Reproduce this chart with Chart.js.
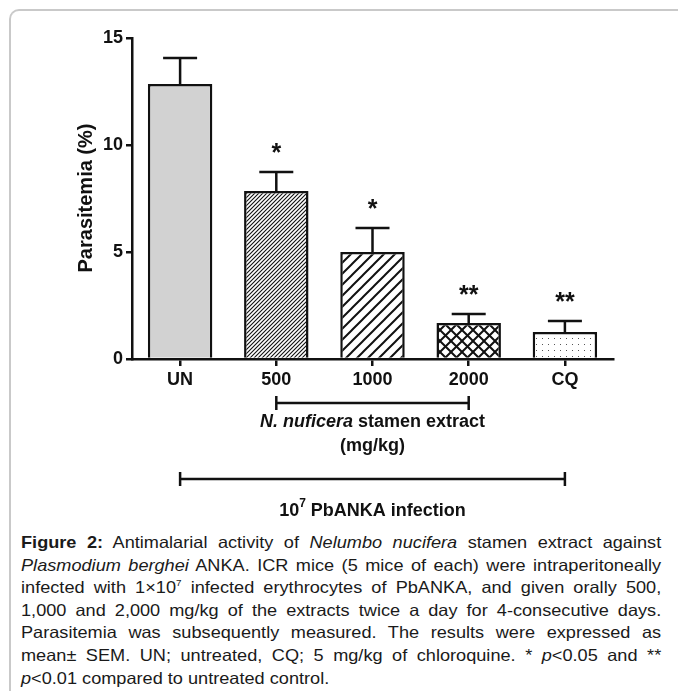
<!DOCTYPE html>
<html>
<head>
<meta charset="utf-8">
<script src="https://cdn.jsdelivr.net/npm/chart.js@4.4.0/dist/chart.umd.min.js"></script>
<style>
  html, body { margin: 0; padding: 0; background: #fff; overflow: hidden; }
  body { width: 678px; height: 691px; position: relative; font-family: "Liberation Sans", Arial, sans-serif; }
  .frame { position: absolute; left: 9px; top: 9px; width: 720px; height: 720px;
           border-top: 2px solid #c9c9c9; border-left: 2px solid #c9c9c9; border-top-left-radius: 10px; }
  #wrap { position: absolute; left: 0; top: 0; width: 678px; height: 530px; }
  .caption { position: absolute; left: 21px; top: 531px; width: 582px; font-size: 16.5px; line-height: 22.6px;
             color: #1a1a1a; transform: scaleX(1.1); transform-origin: 0 0; }
  .caption div { text-align: justify; text-align-last: justify; white-space: nowrap; }
  .caption div.last { text-align-last: left; }
  .caption sup { font-size: 9px; line-height: 0; vertical-align: 7px; }
</style>
</head>
<body>
<div class="frame"></div>
<div id="wrap"><canvas id="parasitemiaChart" width="678" height="530"></canvas></div>
<div class="caption">
  <div><b>Figure 2:</b> Antimalarial activity of <i>Nelumbo nucifera</i> stamen extract against</div>
  <div><i>Plasmodium berghei</i> ANKA. ICR mice (5 mice of each) were intraperitoneally</div>
  <div>infected with 1×10<sup>7</sup> infected erythrocytes of PbANKA, and given orally 500,</div>
  <div>1,000 and 2,000 mg/kg of the extracts twice a day for 4-consecutive days.</div>
  <div>Parasitemia was subsequently measured. The results were expressed as</div>
  <div>mean± SEM. UN; untreated, CQ; 5 mg/kg of chloroquine. * <i>p</i>&lt;0.05 and **</div>
  <div class="last"><i>p</i>&lt;0.01 compared to untreated control.</div>
</div>
<script>
const categories = ['UN', '500', '1000', '2000', 'CQ'];
const meanValues = [12.85, 7.85, 5.0, 1.68, 1.26];
const semValues = [1.22, 0.89, 1.12, 0.42, 0.52];
const sigMarks = ['', '*', '*', '**', '**'];
const yTicks = [0, 5, 10, 15];

const INK = '#111';
const FONT = '"Liberation Sans", Arial, sans-serif';

function makePattern(size, draw) {
    const c = document.createElement('canvas');
    c.width = size; c.height = size;
    const g = c.getContext('2d');
    g.fillStyle = '#fff';
    g.fillRect(0, 0, size, size);
    draw(g, size);
    return document.getElementById('parasitemiaChart').getContext('2d').createPattern(c, 'repeat');
}

function diagonal(g, s, w) {
    g.strokeStyle = INK; g.lineWidth = w;
    g.beginPath();
    g.moveTo(-1, s + 1); g.lineTo(s + 1, -1);
    g.moveTo(-1, 1); g.lineTo(1, -1);
    g.moveTo(s - 1, s + 1); g.lineTo(s + 1, s - 1);
    g.stroke();
}

const fills = [
    '#d2d2d2',
    makePattern(4, (g, s) => diagonal(g, s, 1.1)),
    makePattern(11, (g, s) => diagonal(g, s, 2)),
    makePattern(11, (g, s) => {
        diagonal(g, s, 2);
        g.beginPath();
        g.moveTo(-1, -1); g.lineTo(s + 1, s + 1);
        g.moveTo(s - 1, -1); g.lineTo(s + 1, 1);
        g.moveTo(-1, s - 1); g.lineTo(1, s + 1);
        g.stroke();
    }),
    makePattern(6, g => { g.fillStyle = '#555'; g.fillRect(2, 2, 1, 1); })
];

const annotations = {
    id: 'annotations',
    afterDatasetsDraw(chart) {
        const { ctx, scales: { x, y } } = chart;
        const meta = chart.getDatasetMeta(0);
        ctx.save();
        ctx.strokeStyle = INK;
        ctx.fillStyle = INK;
        ctx.lineWidth = 2.5;
        meta.data.forEach((bar, i) => {
            const top = y.getPixelForValue(meanValues[i] + semValues[i]);
            ctx.beginPath();
            ctx.moveTo(bar.x, bar.y);
            ctx.lineTo(bar.x, top);
            ctx.moveTo(bar.x - 17, top);
            ctx.lineTo(bar.x + 17, top);
            ctx.stroke();
            if (sigMarks[i]) {
                ctx.font = 'bold 25px ' + FONT;
                ctx.textAlign = 'center';
                ctx.textBaseline = 'alphabetic';
                ctx.fillText(sigMarks[i], bar.x, top - 11);
            }
        });

        // y axis title
        ctx.save();
        ctx.translate(86, 198);
        ctx.rotate(-Math.PI / 2);
        ctx.font = 'bold 20px ' + FONT;
        ctx.textAlign = 'center';
        ctx.textBaseline = 'middle';
        ctx.fillText('Parasitemia (%)', 0, 0);
        ctx.restore();

        // brackets
        const bracket = (x1, x2, yy) => {
            ctx.lineWidth = 2.5;
            ctx.beginPath();
            ctx.moveTo(x1, yy); ctx.lineTo(x2, yy);
            ctx.moveTo(x1, yy - 7); ctx.lineTo(x1, yy + 7);
            ctx.moveTo(x2, yy - 7); ctx.lineTo(x2, yy + 7);
            ctx.stroke();
        };
        const b1 = [x.getPixelForValue(1), x.getPixelForValue(3)];
        const b2 = [x.getPixelForValue(0), x.getPixelForValue(4)];
        bracket(b1[0], b1[1], 403);
        bracket(b2[0], b2[1], 479);

        ctx.textBaseline = 'middle';
        ctx.textAlign = 'left';
        const part1 = 'N. nuficera', part2 = ' stamen extract';
        ctx.font = 'italic bold 18px ' + FONT;
        const w1 = ctx.measureText(part1).width;
        ctx.font = 'bold 18px ' + FONT;
        const w2 = ctx.measureText(part2).width;
        let cx = (b1[0] + b1[1]) / 2;
        let sx = cx - (w1 + w2) / 2;
        ctx.font = 'italic bold 18px ' + FONT;
        ctx.fillText(part1, sx, 422);
        ctx.font = 'bold 18px ' + FONT;
        ctx.fillText(part2, sx + w1, 422);
        ctx.textAlign = 'center';
        ctx.fillText('(mg/kg)', cx, 446);

        cx = (b2[0] + b2[1]) / 2;
        ctx.textAlign = 'left';
        const tA = '10', tB = '7', tC = ' PbANKA infection';
        ctx.font = 'bold 18px ' + FONT;
        const wA = ctx.measureText(tA).width, wC = ctx.measureText(tC).width;
        ctx.font = 'bold 12px ' + FONT;
        const wB = ctx.measureText(tB).width;
        sx = cx - (wA + wB + wC) / 2;
        ctx.font = 'bold 18px ' + FONT;
        ctx.fillText(tA, sx, 511);
        ctx.fillText(tC, sx + wA + wB, 511);
        ctx.font = 'bold 12px ' + FONT;
        ctx.fillText(tB, sx + wA, 504);
        ctx.restore();
    }
};

new Chart(document.getElementById('parasitemiaChart'), {
    type: 'bar',
    data: {
        labels: categories,
        datasets: [{
            data: meanValues,
            backgroundColor: fills,
            borderColor: INK,
            borderWidth: 2.5,
            borderSkipped: 'start',
            barPercentage: 0.67,
            categoryPercentage: 1
        }]
    },
    options: {
        responsive: false,
        animation: false,
        layout: { padding: { left: 0, right: 65, top: 38, bottom: 0 } },
        plugins: { legend: { display: false }, tooltip: { enabled: false } },
        scales: {
            x: {
                afterFit: s => { s.height = 171; },
                border: { color: INK, width: 2.5 },
                grid: { offset: false, drawOnChartArea: false, drawTicks: true, tickLength: 7, tickColor: INK, lineWidth: 2.5 },
                ticks: { color: INK, padding: 3, font: { family: FONT, size: 18, weight: 'bold' } }
            },
            y: {
                min: 0,
                max: 15,
                afterFit: s => { s.width = 132; },
                afterBuildTicks: s => { s.ticks = yTicks.map(v => ({ value: v })); },
                border: { color: INK, width: 2.5 },
                grid: { drawOnChartArea: false, drawTicks: true, tickLength: 6, tickColor: INK, lineWidth: 2.5 },
                ticks: { color: INK, padding: 3, font: { family: FONT, size: 18, weight: 'bold' } }
            }
        }
    },
    plugins: [annotations]
});
</script>
</body>
</html>
